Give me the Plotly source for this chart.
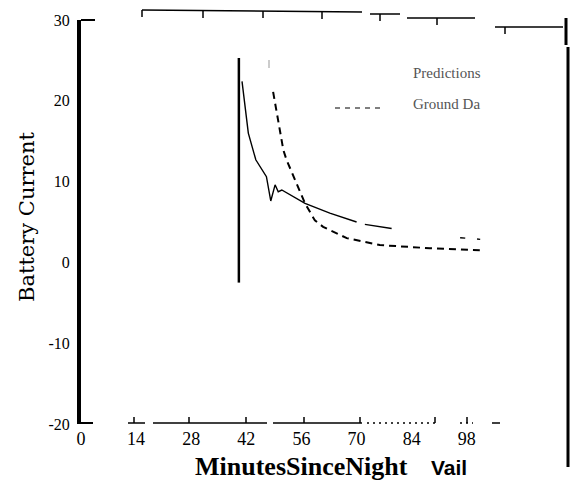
import plotly.graph_objects as go

# ---------------- data ----------------
pred_minutes = [40.9, 42.5, 44.4, 46.7, 47.1, 48.2, 49.3, 50.1, 51.0, 56.9, 63.2, 70.0,
                None, 72.1, 78.9, None, 96.3, 97.6, None, 100.6, 101.4]
pred_current = [22.4, 16.0, 12.7, 10.8, 10.6, 7.6, 9.6, 8.75, 8.96, 7.3, 6.1, 5.0,
                None, 4.7, 4.2, None, 3.05, 3.0, None, 2.9, 2.85]

ground_minutes = [48.8, 51.4, 52.2, 54.8, 56.9, 59.4, 61.5, 67.5, 75.9, 88.6, 101.3]
ground_current = [21.1, 13.9, 12.7, 9.8, 7.3, 5.2, 4.4, 3.0, 2.15, 1.75, 1.5]

night_minutes = [40.1, 40.1]
night_current = [25.3, -2.5]

x_ticks = [0, 14, 28, 42, 56, 70, 84, 98]
y_ticks = [-20, -10, 0, 10, 20, 30]

# ---------------- layout helpers (pixel -> paper) ----------------
W, H = 571, 482
L, R, T, B = 81, 4, 20, 58
PW, PH = W - L - R, H - T - B


def px(x):
    return (x - L) / PW


def py(y):
    return (H - B - y) / PH


fig = go.Figure()

fig.add_trace(go.Scatter(x=night_minutes, y=night_current, mode="lines",
                         line=dict(color="black", width=2.5), showlegend=False,
                         hoverinfo="skip"))
fig.add_trace(go.Scatter(x=pred_minutes, y=pred_current, mode="lines", name="Predictions",
                         line=dict(color="black", width=1.4), connectgaps=False,
                         showlegend=False))
fig.add_trace(go.Scatter(x=ground_minutes, y=ground_current, mode="lines", name="Ground Da",
                         line=dict(color="black", width=2, dash="7px,5px"),
                         showlegend=False))

shapes = []


def seg(x0, y0, x1, y1, w=1.5, dash=None, color="black"):
    d = dict(type="line", xref="paper", yref="paper", x0=px(x0), y0=py(y0),
             x1=px(x1), y1=py(y1), line=dict(color=color, width=w))
    if dash:
        d["line"]["dash"] = dash
    shapes.append(d)


# top frame (broken, scanned look)
seg(142, 10, 362, 12)
seg(370, 14, 400, 14)
seg(407, 18, 475, 18)
seg(495, 27, 563, 27)
for tx, ty in [(142, 10), (203, 11), (263, 11), (322, 12), (380, 14), (437, 18), (505, 27)]:
    seg(tx, ty, tx, ty + 7)
# right frame
seg(566, 18, 566, 45, w=3)
seg(568, 47, 568, 467, w=3)
# bottom axis (broken)
seg(128, 423, 145, 423)
seg(153, 423, 267, 423)
seg(273, 423, 362, 423)
seg(367, 423, 435, 423, dash="2px,4px")
seg(460, 423, 473, 423, dash="2px,4px")
seg(492, 423, 500, 423)
for tx in [134, 189, 246, 304, 360, 435, 467]:
    seg(tx, 423, tx, 417)
# left axis end marks
seg(81, 20, 95, 20, w=2)
seg(81, 423, 93, 423, w=2)
# legend sample for ground data
seg(335, 108, 385, 108, w=1.2, dash="5px,5px")
# faint scan mark
seg(269, 60, 269, 68, w=2, color="#cccccc")


def label(text, x, y, family, size, color="black", angle=0):
    return dict(text=text, xref="paper", yref="paper", x=px(x), y=py(y),
                xanchor="center", yanchor="middle", textangle=angle, showarrow=False,
                font=dict(family=family, size=size, color=color))


fig.update_layout(
    width=W, height=H,
    margin=dict(l=L, r=R, t=T, b=B, pad=0),
    paper_bgcolor="white", plot_bgcolor="white",
    shapes=shapes,
    xaxis=dict(range=[0, PW / 3.937], tickvals=x_ticks, ticktext=[str(v) for v in x_ticks],
               showgrid=False, zeroline=False, showline=False, ticks="",
               tickfont=dict(family="Liberation Serif", size=18, color="black"),
               ticklabelstandoff=2),
    yaxis=dict(range=[-20, 30], tickvals=y_ticks, ticktext=[str(v) for v in y_ticks],
               showgrid=False, zeroline=False, showline=True, linewidth=4,
               linecolor="black", ticks="",
               tickfont=dict(family="Liberation Serif", size=16, color="black"),
               ticklabelstandoff=4),
    annotations=[
        label("Battery Current", 27, 217, "DejaVu Serif", 21, angle=-90),
        label("<b>MinutesSinceNight</b>", 301, 466, "Liberation Serif", 26),
        label("<b>Vail</b>", 449, 467, "Liberation Sans", 21),
        label("Predictions", 447, 73, "Liberation Serif", 15, "#555"),
        label("Ground Da", 446, 104, "Liberation Serif", 15, "#555"),
    ],
)

fig.write_html("out.html")
